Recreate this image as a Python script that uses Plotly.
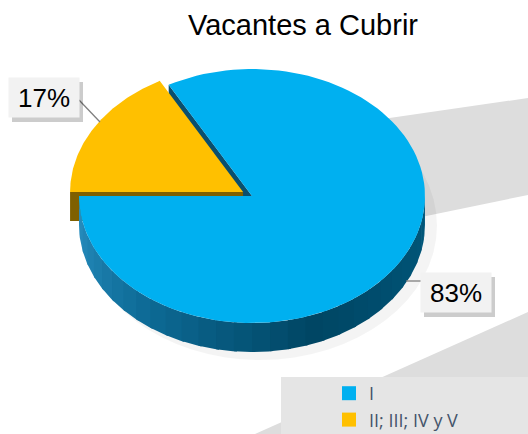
import numpy as np
import plotly.graph_objects as go

# ---- data ----
categories = ["I", "II; III; IV y V"]
values = [83, 17]
top_colors = ["#00B0F0", "#FFC000"]
face_colors = ["#0A4F6E", "#7F6000"]
explode = [0.0, 0.06]
title_text = "Vacantes a Cubrir"

# ---- geometry (pixel space, axes map 1:1) ----
W, H = 528, 434
cx, cy, rx, ry, depth = 252, 196, 173, 127, 29
start_angle = 180.0

total = sum(values)
fracs = [v / total for v in values]


def pt(theta_deg, off=(0, 0), dz=0):
    t = np.radians(theta_deg)
    return cx + rx * np.cos(t) + off[0], cy - ry * np.sin(t) + off[1] + dz


def lerp_color(c1, c2, f):
    a = [int(c1[i:i + 2], 16) for i in (1, 3, 5)]
    b = [int(c2[i:i + 2], 16) for i in (1, 3, 5)]
    return "#%02x%02x%02x" % tuple(int(round(a[k] + (b[k] - a[k]) * f)) for k in range(3))


side_stops = {
    0: [(180, "#2A90C2"), (230, "#0E6C98"), (290, "#004664"), (360, "#00587C")],
    1: [(180, "#8A6A00"), (360, "#6A5000")],
}


def side_color(i, th):
    stops = side_stops[i]
    th = th % 360
    if th < stops[0][0]:
        return stops[0][1]
    for (a0, c0), (a1, c1) in zip(stops[:-1], stops[1:]):
        if a0 <= th <= a1:
            return lerp_color(c0, c1, (th - a0) / (a1 - a0))
    return stops[-1][1]


slices = []
a = start_angle
for i, f in enumerate(fracs):
    t0, t1 = a, a + 360 * f
    mid = np.radians((t0 + t1) / 2)
    off = (explode[i] * rx * np.cos(mid), -explode[i] * ry * np.sin(mid))
    slices.append((i, t0, t1, off))
    a = t1

fig = go.Figure()

# radial (cut) faces
for i, t0, t1, off in slices:
    for edge, normal in ((t0, t0 - 90), (t1, t1 + 90)):
        if np.sin(np.radians(normal)) < -1e-6:
            tip = (cx + off[0], cy + off[1])
            ex, ey = pt(edge, off)
            fig.add_trace(go.Scatter(
                x=[tip[0], ex, ex, tip[0], tip[0]],
                y=[tip[1], ey, ey + depth, tip[1] + depth, tip[1]],
                mode="lines", fill="toself", fillcolor=face_colors[i],
                line=dict(width=0), hoverinfo="skip", showlegend=False))

# side walls (front half only), split in strips for shading
for i, t0, t1, off in slices:
    segs = []
    for k in range(-1, 3):
        f0, f1 = 180 + 360 * k, 360 + 360 * k
        s0, s1 = max(t0, f0), min(t1, f1)
        if s1 > s0:
            segs.append((s0, s1))
    for s0, s1 in segs:
        n = max(2, int((s1 - s0) / 6))
        edges = np.linspace(s0, s1, n + 1)
        for e0, e1 in zip(edges[:-1], edges[1:]):
            th = np.linspace(e0, min(e1 + 1.0, s1), 6)
            xs_t, ys_t = pt(th, off)
            xs = np.concatenate([xs_t, xs_t[::-1], xs_t[:1]])
            ys = np.concatenate([ys_t, (ys_t + depth)[::-1], ys_t[:1]])
            col = side_color(i, (e0 + e1) / 2)
            fig.add_trace(go.Scatter(
                x=xs, y=ys, mode="lines", fill="toself", fillcolor=col,
                line=dict(width=0), hoverinfo="skip", showlegend=False))

# top faces
for i, t0, t1, off in slices:
    th = np.linspace(t0, t1, 120)
    xs_a, ys_a = pt(th, off)
    tip = (cx + off[0], cy + off[1])
    xs = np.concatenate([[tip[0]], xs_a, [tip[0]]])
    ys = np.concatenate([[tip[1]], ys_a, [tip[1]]])
    fig.add_trace(go.Scatter(
        x=xs, y=ys, mode="lines", fill="toself", fillcolor=top_colors[i],
        line=dict(width=0), name=categories[i], hoverinfo="name", showlegend=False))

# legend entries
for i, c in enumerate(categories):
    fig.add_trace(go.Scatter(
        x=[None], y=[None], mode="markers", name=c,
        marker=dict(symbol="square", size=14, color=top_colors[i])))

# ---- labels ----
label_pos = [(456, 292), (44, 97)]
leaders = [((406, 281), (421, 281)), ((79, 100), (100, 122))]
shapes = [
    # background bands
    dict(type="path", path="M 300 131 L 528 98 L 528 195 L 300 242 Z",
         fillcolor="#DDDDDD", line=dict(width=0), layer="below"),
    dict(type="path", path="M 528 312 L 528 434 L 255 434 Z",
         fillcolor="#DDDDDD", line=dict(width=0), layer="below"),
    # legend background
    dict(type="rect", x0=281, x1=528, y0=377, y1=434,
         fillcolor="#E5E5E5", line=dict(width=0), layer="below"),
    # pie shadow
    dict(type="circle", x0=cx - rx + 4, x1=cx + rx + 12, y0=cy - ry + 22,
         y1=cy + ry + depth + 8, fillcolor="rgba(0,0,0,0.045)",
         line=dict(width=0), layer="below"),
]
annotations = []
for i, (lx, ly) in enumerate(label_pos):
    pct = f"{round(values[i] / total * 100)}%"
    (x0, y0), (x1, y1) = leaders[i]
    shapes.append(dict(type="line", x0=x0, y0=y0, x1=x1, y1=y1,
                       line=dict(color="#7F7F7F", width=1.3)))
    shapes.append(dict(type="rect", x0=lx - 35 + 3, x1=lx + 35 + 4,
                       y0=ly - 19 + 4, y1=ly + 20 + 5,
                       fillcolor="rgba(0,0,0,0.20)", line=dict(width=0)))
    annotations.append(dict(
        x=lx, y=ly, xref="x", yref="y", text=pct, showarrow=False,
        font=dict(family="Liberation Sans, Arial", size=26, color="#000000"),
        bgcolor="#F2F2F2", width=62, height=31, borderpad=4,
        xanchor="center", yanchor="middle"))

fig.update_layout(
    width=W, height=H,
    margin=dict(l=0, r=0, t=0, b=0, autoexpand=False),
    paper_bgcolor="#FFFFFF", plot_bgcolor="rgba(0,0,0,0)",
    title=dict(text=title_text, x=303 / W, xanchor="center",
               y=1 - 25 / H, yanchor="middle",
               font=dict(family="Liberation Sans, Arial", size=29, color="#000000")),
    xaxis=dict(range=[0, W], visible=False, fixedrange=True),
    yaxis=dict(range=[H, 0], visible=False, fixedrange=True),
    showlegend=True,
    legend=dict(x=329 / W, y=1 - 375 / H, xanchor="left", yanchor="top",
                bgcolor="rgba(0,0,0,0)", tracegroupgap=0,
                font=dict(family="Open Sans", size=18, color="#44546A")),
    shapes=shapes, annotations=annotations,
    hovermode="closest",
)

fig.write_html("out.html",
               config={"displayModeBar": False},
               post_script="document.body.style.margin='0';document.body.style.overflow='hidden';")
